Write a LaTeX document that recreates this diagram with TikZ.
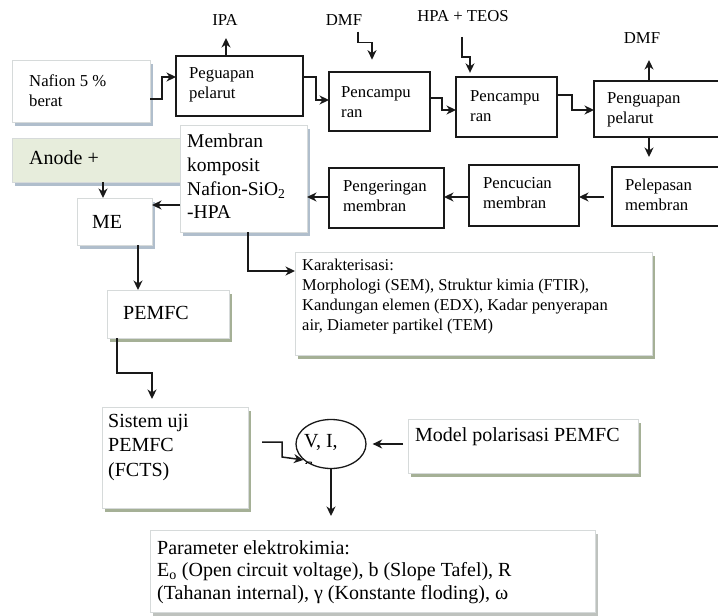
\documentclass[tikz,border=0pt]{standalone}
\usepackage{fontspec}
\setmainfont{Liberation Serif}
\usetikzlibrary{arrows.meta,shadows,shapes.geometric}
\definecolor{shg}{RGB}{165,176,150}
\definecolor{shb}{RGB}{176,190,204}
\definecolor{shgr}{RGB}{190,194,190}
\definecolor{bdr}{RGB}{214,218,218}
\definecolor{anodefill}{RGB}{231,237,220}
\definecolor{ln}{RGB}{25,25,25}
\newcommand\smallfnt{\fontsize{16.7}{20}\selectfont}
\newcommand\bigfnt{\fontsize{20}{24.5}\selectfont}
\newcommand\membfnt{\fontsize{19.5}{23.7}\selectfont}
\newcommand\karfnt{\fontsize{16.5}{19.8}\selectfont}
\newcommand\parfnt{\fontsize{20}{22.5}\selectfont}
\begin{document}
\begin{tikzpicture}[x=1pt,y=-1pt,
  box/.style={anchor=north west, inner sep=0pt, outer sep=0pt},
  plain/.style={box, draw=ln, line width=1.4pt, fill=white},
  softg/.style={box, draw=bdr, line width=1pt, fill=white,
    drop shadow={shadow xshift=2.5pt, shadow yshift=-4pt, fill=shg, opacity=1}},
  softb/.style={box, draw=bdr, line width=1pt, fill=white,
    drop shadow={shadow xshift=2.5pt, shadow yshift=-4pt, fill=shb, opacity=1}},
  softgr/.style={box, draw=bdr, line width=1pt, fill=white,
    drop shadow={shadow xshift=2.5pt, shadow yshift=-4pt, fill=shgr, opacity=1}},
  tx/.style={align=left, inner sep=0pt, anchor=west, text=black},
  lbl/.style={inner sep=0pt, anchor=center, text=black, font=\smallfnt},
  arr/.style={draw=ln, line width=1.5pt, -{Stealth[length=9.5pt,width=9pt,inset=3pt]}}
]
\useasboundingbox (0,0) rectangle (718,616);

% top row
\node[softb, minimum width=138, minimum height=62] (nafion) at (12,60) {};
\node[tx, font=\smallfnt] (nafion-t) at (29,90.5) {Nafion 5 \%\\berat};

\node[plain, minimum width=127, minimum height=60] (pegu) at (176,56) {};
\node[tx, font=\smallfnt] (pegu-t) at (189,85) {Peguapan\\pelarut};

\node[plain, minimum width=101, minimum height=59] (mix1) at (329,72) {};
\node[tx, font=\smallfnt] (mix1-t) at (341,102) {Pencampu\\ran};

\node[plain, minimum width=101, minimum height=60] (mix2) at (456,77) {};
\node[tx, font=\smallfnt] (mix2-t) at (470,106) {Pencampu\\ran};

\node[plain, minimum width=128, minimum height=56] (evap) at (594,81) {};
\node[tx, font=\smallfnt] (evap-t) at (607,109.5) {Penguapan\\pelarut};

% labels
\node[lbl] (ipa) at (225,20) {IPA};
\node[lbl] (dmfa) at (344,20) {DMF};
\node[lbl] (hpa) at (463,16) {HPA + TEOS};
\node[lbl] (dmfb) at (642,38) {DMF};

% second row
\node[plain, minimum width=110, minimum height=59] (rel) at (612,167) {};
\node[tx, font=\smallfnt] (rel-t) at (625,195) {Pelepasan\\membran};

\node[plain, minimum width=110, minimum height=61] (wash) at (469,165) {};
\node[tx, font=\smallfnt] (wash-t) at (483,193) {Pencucian\\membran};

\node[plain, minimum width=115, minimum height=60] (dry) at (329,168) {};
\node[tx, font=\smallfnt] (dry-t) at (343,196) {Pengeringan\\membran};

\node[box, draw=bdr, line width=1pt, fill=anodefill,
  drop shadow={shadow xshift=2.5pt, shadow yshift=-4pt, fill=shb, opacity=1},
  minimum width=171, minimum height=44] (anode) at (12,138) {};
\node[tx, font=\bigfnt] (anode-t) at (29,158) {Anode +};

\node[softb, minimum width=127, minimum height=107] (memb) at (180,125) {};
\node[tx, font=\membfnt] (memb-t) at (187,176.5) {Membran\\komposit\\Nafion-SiO\textsubscript{2}\\-HPA};

\node[softb, minimum width=75, minimum height=47] (me) at (77,198) {};
\node[tx, font=\bigfnt] (me-t) at (92,222) {ME};

\node[softg, minimum width=357, minimum height=103] (kar) at (295,252) {};
\node[tx, font=\karfnt] (kar-t) at (302,296.5) {Karakterisasi:\\Morphologi (SEM), Struktur kimia (FTIR),\\Kandungan elemen (EDX), Kadar penyerapan\\air, Diameter partikel (TEM)};

\node[softg, minimum width=122, minimum height=48] (pemfc) at (107,290) {};
\node[tx, font=\bigfnt] (pemfc-t) at (123,313) {PEMFC};

\node[softg, minimum width=146, minimum height=101] (sis) at (102,407) {};
\node[tx, font=\bigfnt] (sis-t) at (108,447.5) {Sistem uji\\PEMFC\\(FCTS)};

\node[softg, minimum width=230, minimum height=54] (model) at (408,419) {};
\node[tx, font=\bigfnt] (model-t) at (415,437) {Model polarisasi PEMFC};

\node[draw=ln, line width=1.3pt, ellipse, fill=white, inner sep=0pt,
  minimum width=70, minimum height=49] (ell) at (331,444) {};
\begin{scope}
  \clip (292,421) rectangle (370,463.5);
  \node[tx, font=\bigfnt] (ell-t) at (304,453) {V, I,\\c};
\end{scope}

\node[softgr, minimum width=445, minimum height=82] (par) at (150,530) {};
\node[tx, font=\parfnt] (par-t) at (157,572) {Parameter elektrokimia:\\E\textsubscript{o} (Open circuit voltage), b (Slope Tafel), R\\(Tahanan internal), γ (Konstante floding), ω};

% connectors
\draw[arr] ([yshift=-8pt]nafion.east) -- ++(12,0) |- ([yshift=9pt]pegu.west);
\draw[arr] ([yshift=9pt]pegu.east) -- ++(13,0) |- ([yshift=1.5pt]mix1.west);
\draw[arr] ([yshift=3.5pt]mix1.east) -- ++(12,0) |- ([yshift=-3pt]mix2.west);
\draw[arr] ([yshift=12pt]mix2.east) -- ++(15,0) |- ([yshift=-1pt]evap.west);
\draw[arr] ([xshift=-13.5pt]pegu.north) -- ++(0,-18);
\draw[arr] ([xshift=14pt,yshift=-6pt]dmfa.south) -- ++(0,11) -- ++(14,0) -- ++(0,17);
\draw[arr] ([xshift=-1pt,yshift=-15pt]hpa.south) -- ++(0,20) -- ++(8,0) -- ++(0,16);
\draw[arr] ([xshift=-9pt]evap.north) -- ++(0,-21);
\draw[arr] ([xshift=-9pt]evap.south) -- ++(0,20);
\draw[arr, shorten <=8pt] (rel.west |- 0,197) -- (wash.east |- 0,197);
\draw[arr] (wash.west |- 0,197) -- (dry.east |- 0,197);
\draw[arr] (dry.west |- 0,197) -- (memb.east |- 0,197);
\draw[arr] (memb.west |- 0,205) -- (me.east |- 0,205);
\draw[arr] (anode.south -| 103,0) -- (me.north -| 103,0);
\draw[arr] (memb.south -| 248,0) |- (kar.west |- 0,271);
\draw[arr] (me.south -| 138,0) -- (pemfc.north -| 138,0);
\draw[arr, shorten >=8pt] (pemfc.south -| 117,0) |- (152,373) -- (sis.north -| 152,0);
\draw[arr, shorten <=14pt] (sis.east |- 0,442) -| (282,457) -- (ell.210);
\draw[arr, shorten <=5pt, shorten >=6pt] (model.west |- ell.east) -- (ell.east);
\draw[arr, shorten >=14pt] (ell.south) -- (par.north -| ell.south);
\end{tikzpicture}
\end{document}
